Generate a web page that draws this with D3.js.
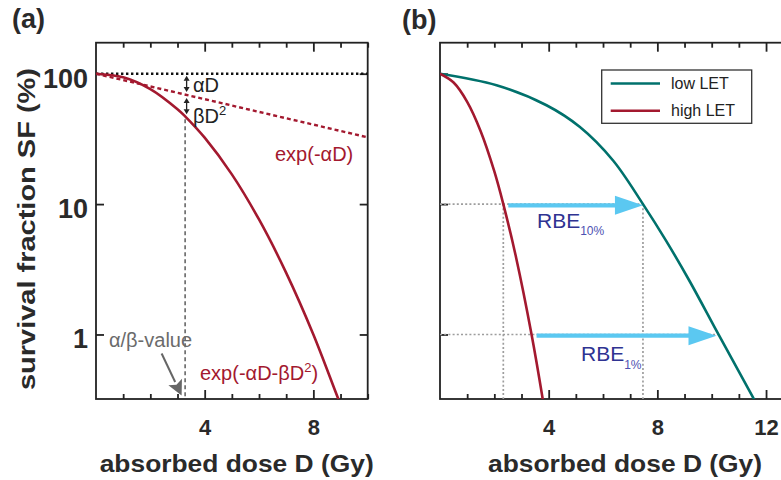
<!DOCTYPE html>
<html>
<head>
<meta charset="utf-8">
<script src="https://cdn.jsdelivr.net/npm/d3@7"></script>
<style>
  html, body { margin: 0; padding: 0; background: #fff; }
  svg { display: block; font-family: "Liberation Sans", Arial, Helvetica, sans-serif; }
</style>
</head>
<body>
<svg id="chart" width="781" height="480"></svg>
<script>
// ---- data: dose in Gy, surviving fraction in % ----
// (a) linear-quadratic curve and its linear (alpha) component
const lqDose = [0, 1, 2, 3, 3.28, 4, 5, 6, 7, 8, 8.92, 9.1];
const lqSF   = [100, 93.9, 76.2, 53.4, 47.1, 32.3, 16.9, 7.62, 2.97, 1.0, 0.32, 0.26];
const linDose = [0, 10];
const linSF   = [100, 32.5];
const alphaBeta = 3.28;

// (b) low / high LET survival curves
const lowDose  = [0, 2.08, 3.92, 5.15, 6.37, 7.47, 8.33, 9.19, 10.25, 11.52, 11.7];
const lowSF    = [100, 81.6, 57.3, 39, 21.6, 10, 5.2, 2.56, 1, 0.33, 0.28];
const highDose = [0, 0.5, 1, 1.5, 2, 2.33, 2.8, 3.37, 3.78, 3.9];
const highSF   = [100, 85.6, 60.9, 36.1, 17.8, 10, 3.9, 1, 0.32, 0.22];

// iso-effect levels used for the RBE arrows
const rbeLevels   = [10, 1];
const rbeHighDose = [2.33, 3.37];
const rbeLowDose  = [7.47, 10.25];
const rbeSubs     = ["10%", "1%"];

// axes
const yTicks  = [1, 10, 100];
const xMajorA = [4, 8];
const xMajorB = [4, 8, 12];
const legendLabels = ["low LET", "high LET"];

// ---- styling ----
const RED = "#a3192f", TEAL = "#00716c", BLUE = "#5bc8f1", INK = "#2a2a2a";
const RBE_MAIN = "#2f3392", RBE_SUB = "#4d51b2";

const svg = d3.select("#chart");
const yTop = 42.7, yBot = 399;
const pxPerGy = 27.17;

const y  = d3.scaleLog().domain([0.32, 172.9]).range([yBot, yTop]);
const xA = d3.scaleLinear().domain([0, 10]).range([96, 96 + 10 * pxPerGy]);
const xB = d3.scaleLinear().domain([0, 13]).range([440, 440 + 13 * pxPerGy]);

const defs = svg.append("defs");
function clip(id, x) {
  const [x0, x1] = x.range();
  defs.append("clipPath").attr("id", id).append("rect")
    .attr("x", x0).attr("y", yTop).attr("width", x1 - x0).attr("height", yBot - yTop);
}
clip("clipA", xA);
clip("clipB", xB);

function styleAxis(g) {
  g.select(".domain").remove();
  g.selectAll(".tick line").attr("stroke", "#222").attr("stroke-width", 1.8);
  g.attr("font-family", null);
  g.selectAll("text").attr("fill", INK).attr("font-weight", "bold");
}

function frame(x, maxD, majors, withRight, withYLabels) {
  const [x0, x1] = x.range();
  const g = svg.append("g");
  const minors = d3.range(1, maxD + 1).filter(v => !majors.includes(v));

  // bottom
  g.append("g").attr("transform", `translate(0,${yBot})`)
    .call(d3.axisBottom(x).tickValues(minors).tickSize(-5).tickFormat(""))
    .call(styleAxis);
  g.append("g").attr("transform", `translate(0,${yBot})`)
    .call(d3.axisBottom(x).tickValues(majors).tickSize(-9).tickPadding(20).tickFormat(d3.format("d")))
    .call(styleAxis)
    .call(s => s.selectAll("text").attr("font-size", 22));
  // top
  g.append("g").attr("transform", `translate(0,${yTop})`)
    .call(d3.axisTop(x).tickValues(minors).tickSize(-5).tickFormat(""))
    .call(styleAxis);
  g.append("g").attr("transform", `translate(0,${yTop})`)
    .call(d3.axisTop(x).tickValues(majors).tickSize(-9).tickFormat(""))
    .call(styleAxis);
  // left
  g.append("g").attr("transform", `translate(${x0},0)`)
    .call(d3.axisLeft(y).tickValues(yTicks).tickSize(-8).tickPadding(8)
      .tickFormat(withYLabels ? d3.format("d") : ""))
    .call(styleAxis)
    .call(s => s.selectAll("text").attr("font-size", 27).attr("dy", "0.5em"));
  if (withRight) {
    g.append("g").attr("transform", `translate(${x1},0)`)
      .call(d3.axisRight(y).tickValues(yTicks).tickSize(-8).tickFormat(""))
      .call(styleAxis);
  }
  g.append("rect")
    .attr("x", x0).attr("y", yTop).attr("width", x1 - x0).attr("height", yBot - yTop)
    .attr("fill", "none").attr("stroke", "#222").attr("stroke-width", 1.8);
}

function curve(x) {
  return d3.line().x(d => x(d[0])).y(d => y(d[1])).curve(d3.curveCatmullRom.alpha(0.5));
}

// ================= panel (a) =================
frame(xA, 10, xMajorA, true, true);
const gA = svg.append("g").attr("clip-path", "url(#clipA)");

// 100 % reference line
gA.append("line")
  .attr("x1", xA(0)).attr("x2", xA(10)).attr("y1", y(100)).attr("y2", y(100))
  .attr("stroke", "#111").attr("stroke-width", 2.4).attr("stroke-dasharray", "2.4,2.6");

// linear (alpha) component
gA.append("path")
  .attr("d", d3.line().x(d => xA(d[0])).y(d => y(d[1]))(d3.zip(linDose, linSF)))
  .attr("fill", "none").attr("stroke", RED).attr("stroke-width", 2.4)
  .attr("stroke-dasharray", "4,3");

// alpha/beta dose marker
const lqAtAB = lqSF[lqDose.indexOf(alphaBeta)];
gA.append("line")
  .attr("x1", xA(alphaBeta)).attr("x2", xA(alphaBeta))
  .attr("y1", y(lqAtAB) + 3).attr("y2", yBot)
  .attr("stroke", "#666").attr("stroke-width", 1.6).attr("stroke-dasharray", "4,3");

// linear-quadratic curve
gA.append("path")
  .attr("d", curve(xA)(d3.zip(lqDose, lqSF)))
  .attr("fill", "none").attr("stroke", RED).attr("stroke-width", 2.6);

// double-headed arrows for the alpha and beta contributions
const yLinAtAB = d3.interpolateNumber(y(linSF[0]), y(linSF[1]))(alphaBeta / linDose[1]);
function dblArrow(xp, y1, y2) {
  const h = 4.5, w = 3;
  const g = svg.append("g").attr("fill", "#222").attr("stroke", "#222");
  g.append("line").attr("x1", xp).attr("x2", xp).attr("y1", y1 + h).attr("y2", y2 - h)
    .attr("stroke-width", 1.3);
  g.append("path").attr("stroke", "none")
    .attr("d", `M${xp},${y1}L${xp - w},${y1 + h + 0.5}L${xp + w},${y1 + h + 0.5}Z`);
  g.append("path").attr("stroke", "none")
    .attr("d", `M${xp},${y2}L${xp - w},${y2 - h - 0.5}L${xp + w},${y2 - h - 0.5}Z`);
}
const arrowX = xA(alphaBeta) + 1.5;
dblArrow(arrowX, y(100) + 2, yLinAtAB - 2.5);
dblArrow(arrowX, yLinAtAB + 3.5, y(lqAtAB) - 2);

svg.append("text").attr("x", 193).attr("y", 92).attr("font-size", 20).attr("fill", "#222")
  .text("αD");
const bt = svg.append("text").attr("x", 193).attr("y", 123).attr("font-size", 20).attr("fill", "#222");
bt.append("tspan").text("βD");
bt.append("tspan").attr("font-size", 13).attr("dy", -8).text("2");

svg.append("text").attr("x", 275).attr("y", 161).attr("font-size", 20).attr("fill", RED)
  .text("exp(-αD)");
const eq = svg.append("text").attr("x", 200).attr("y", 380).attr("font-size", 20).attr("fill", RED);
eq.append("tspan").text("exp(-αD-βD");
eq.append("tspan").attr("font-size", 13).attr("dy", -8).text("2");
eq.append("tspan").attr("dy", 8).text(")");

// alpha/beta label with pointer
svg.append("text").attr("x", 109).attr("y", 347).attr("font-size", 20).attr("fill", "#6b6b6b")
  .text("α/β-value");
{
  const tipX = xA(alphaBeta) - 3.5, tipY = yBot - 3.5;
  const sx = tipX - 20, sy = tipY - 42;
  const ang = Math.atan2(tipY - sy, tipX - sx);
  const hl = 15, hw = 7.5;
  const bx = tipX - hl * Math.cos(ang), by = tipY - hl * Math.sin(ang);
  const nx = -Math.sin(ang), ny = Math.cos(ang);
  svg.append("line").attr("x1", sx).attr("y1", sy).attr("x2", bx).attr("y2", by)
    .attr("stroke", "#666").attr("stroke-width", 2);
  svg.append("path").attr("fill", "#666")
    .attr("d", `M${tipX},${tipY}L${bx + nx * hw},${by + ny * hw}L${bx + 3 * Math.cos(ang)},${by + 3 * Math.sin(ang)}L${bx - nx * hw},${by - ny * hw}Z`);
}

// ================= panel (b) =================
frame(xB, 13, xMajorB, false, false);
const gB = svg.append("g").attr("clip-path", "url(#clipB)");

// iso-effect guide lines
const dot = sel => sel.attr("stroke", "#9d9d9d").attr("stroke-width", 1.7).attr("stroke-dasharray", "2,2.2");
rbeLevels.forEach((lv, i) => {
  gB.append("line").attr("x1", xB(0)).attr("x2", xB(rbeLowDose[i]))
    .attr("y1", y(lv)).attr("y2", y(lv)).call(dot);
});
[rbeHighDose[0], rbeLowDose[0]].forEach(d => {
  gB.append("line").attr("x1", xB(d)).attr("x2", xB(d))
    .attr("y1", y(rbeLevels[0])).attr("y2", yBot).call(dot);
});

// survival curves
gB.append("path").attr("d", curve(xB)(d3.zip(lowDose, lowSF)))
  .attr("fill", "none").attr("stroke", TEAL).attr("stroke-width", 2.6);
gB.append("path").attr("d", curve(xB)(d3.zip(highDose, highSF)))
  .attr("fill", "none").attr("stroke", RED).attr("stroke-width", 2.6);

// RBE arrows
rbeLevels.forEach((lv, i) => {
  const x0 = xB(rbeHighDose[i]) + 5, x1 = xB(rbeLowDose[i]) - (i === 0 ? 0 : 2);
  const yy = y(lv) + 1.2, hl = 28, hw = 9.5;
  gB.append("line").attr("x1", x0).attr("x2", x1 - hl + 1).attr("y1", yy).attr("y2", yy)
    .attr("stroke", BLUE).attr("stroke-width", 4.2);
  gB.append("path").attr("fill", BLUE)
    .attr("d", `M${x1},${yy}L${x1 - hl},${yy - hw}L${x1 - hl},${yy + hw}Z`);
});

// RBE labels
const rbePos = [[537, 227.5], [581, 361]];
rbeSubs.forEach((s, i) => {
  const t = svg.append("text").attr("x", rbePos[i][0]).attr("y", rbePos[i][1]).attr("font-size", 21);
  t.append("tspan").attr("fill", RBE_MAIN).text("RBE");
  t.append("tspan").attr("fill", RBE_SUB).attr("font-size", 12).attr("dy", 7.5).text(s);
});

// legend
{
  const lg = svg.append("g");
  lg.append("rect").attr("x", 601.7).attr("y", 70).attr("width", 150).attr("height", 53.3)
    .attr("fill", "#fff").attr("stroke", "#333").attr("stroke-width", 1.3);
  [TEAL, RED].forEach((c, i) => {
    const yy = 83.5 + i * 27.3;
    lg.append("line").attr("x1", 610.7).attr("x2", 660).attr("y1", yy).attr("y2", yy)
      .attr("stroke", c).attr("stroke-width", 2.5);
    lg.append("text").attr("x", 671).attr("y", yy + 5.5).attr("font-size", 16).attr("fill", "#222")
      .text(legendLabels[i]);
  });
}

// ================= titles =================
svg.append("text").attr("x", 12).attr("y", 28).attr("font-size", 27).attr("font-weight", "bold")
  .attr("fill", INK).text("(a)");
svg.append("text").attr("x", 402).attr("y", 29).attr("font-size", 27).attr("font-weight", "bold")
  .attr("fill", INK).text("(b)");

[236.7, 625].forEach(cx => {
  svg.append("text").attr("x", cx).attr("y", 471.5).attr("text-anchor", "middle")
    .attr("font-size", 24).attr("font-weight", "bold").attr("fill", INK)
    .attr("textLength", 274).attr("lengthAdjust", "spacingAndGlyphs")
    .text("absorbed dose D (Gy)");
});

svg.append("text").attr("transform", "translate(35,229) rotate(-90)")
  .attr("text-anchor", "middle").attr("font-size", 24).attr("font-weight", "bold").attr("fill", INK)
  .attr("textLength", 322).attr("lengthAdjust", "spacingAndGlyphs")
  .text("survival fraction SF (%)");
</script>
</body>
</html>
